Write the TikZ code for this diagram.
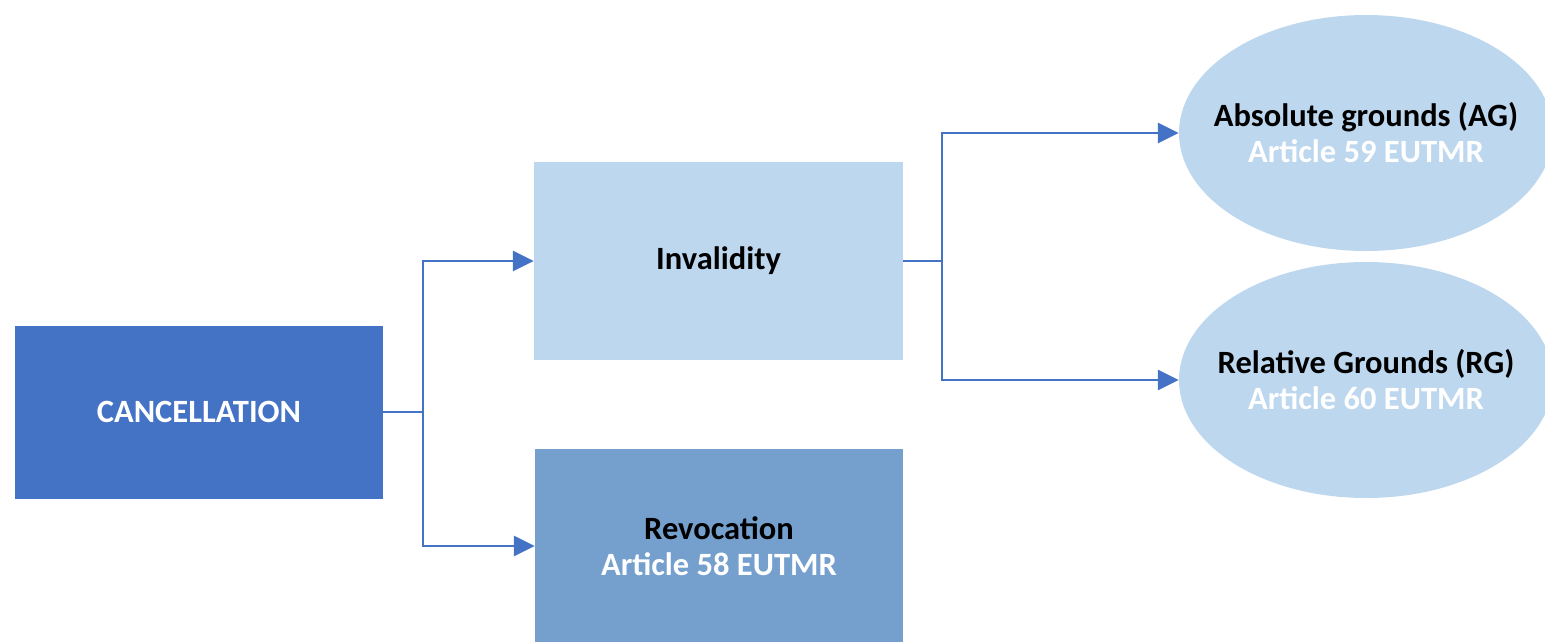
\documentclass[tikz,border=0pt]{standalone}
\usepackage{fontspec}
\setmainfont{Carlito}
\usetikzlibrary{arrows.meta,shapes.geometric}
\definecolor{dblue}{HTML}{4472C4}
\definecolor{lblue}{HTML}{BDD7EE}
\definecolor{mblue}{HTML}{75A0CE}
\newcommand{\ctrline}[1]{\makebox[0pt]{#1}}
\begin{document}
\begin{tikzpicture}[x=1pt,y=-1pt,
  txt/.style={font=\fontsize{32.5}{36}\selectfont\bfseries, align=center, inner sep=0pt},
  box/.style={rectangle, txt},
  oval/.style={ellipse, fill=lblue, txt, minimum width=374pt, minimum height=236pt},
  conn/.style={draw=dblue, line width=2.8pt},
  arr/.style={conn, -{Triangle[length=21pt,width=20pt]}}]
\path[use as bounding box] (0,0) rectangle (1545,641);
\node[box, fill=dblue, text=white, minimum width=368pt, minimum height=173pt] (canc) at (199,412) {CANCELLATION};
\node[box, fill=lblue, minimum width=369pt, minimum height=198pt] (inv) at (718.5,261) {Invalidity};
\node[box, fill=mblue, minimum width=368pt, minimum height=194pt] (rev) at (719,546) {Revocation\\\textcolor{white}{Article 58 EUTMR}};
\node[oval] (ag) at (1366,133) {\ctrline{Absolute grounds (AG)}\\\ctrline{\textcolor{white}{Article 59 EUTMR}}};
\node[oval] (rg) at (1366,380) {\ctrline{Relative Grounds (RG)}\\\ctrline{\textcolor{white}{Article 60 EUTMR}}};
\coordinate (j1) at (423,412);
\coordinate (j2) at (942,261);
\draw[conn] (canc.east) -- (j1);
\draw[arr] (j1) |- (inv.west);
\draw[arr] (j1) |- (rev.west);
\draw[conn] (inv.east) -- (j2);
\draw[arr] (j2) |- (ag.west);
\draw[arr] (j2) |- (rg.west);
\end{tikzpicture}
\end{document}
